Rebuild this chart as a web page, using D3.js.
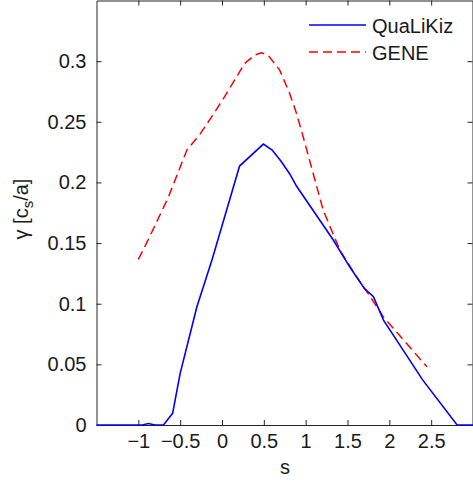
<!DOCTYPE html>
<html>
<head>
<meta charset="utf-8">
<script src="https://cdnjs.cloudflare.com/ajax/libs/d3/7.8.5/d3.min.js"></script>
<style>
  body { margin: 0; background: #fff; }
  text { font-family: "Liberation Sans", Arial, sans-serif; fill: #1a1a1a; }
</style>
</head>
<body>
<svg width="473" height="482"></svg>
<script>
// QuaLiKiz (solid blue)
const qlkS = [-1.5, -0.95, -0.88, -0.8, -0.7, -0.59, -0.5, -0.3, -0.12, 0.21, 0.495, 0.6, 0.71, 0.81, 0.89, 1.33, 1.53, 1.70, 1.81, 1.93, 2.40, 2.81, 3.0];
const qlkG = [0, 0, 0.0012, 0, 0, 0.0096, 0.0426, 0.0975, 0.136, 0.2135, 0.2316, 0.2267, 0.217, 0.207, 0.197, 0.1525, 0.130, 0.1127, 0.1058, 0.0865, 0.037, 0, 0];

// GENE (dashed red)
const geneS = [-1.0, -0.88, -0.64, -0.42, -0.26, -0.11, 0.03, 0.15, 0.27, 0.39, 0.47, 0.55, 0.69, 0.81, 0.89, 0.97, 1.21, 1.41, 1.61, 1.77, 1.93, 2.17, 2.45];
const geneG = [0.1366, 0.153, 0.188, 0.2267, 0.240, 0.2555, 0.2706, 0.2843, 0.298, 0.305, 0.3068, 0.305, 0.2926, 0.273, 0.257, 0.2376, 0.177, 0.144, 0.122, 0.106, 0.089, 0.070, 0.048];

const xTicks = [-1, -0.5, 0, 0.5, 1, 1.5, 2, 2.5];
const yTicks = [0, 0.05, 0.1, 0.15, 0.2, 0.25, 0.3];

const svg = d3.select("svg");

const plotLeft = 96.5, plotRight = 473, plotTop = 0.5, plotBottom = 425;

const x = d3.scaleLinear().domain([-1.5, 3]).range([plotLeft, plotRight]);
const y = d3.scaleLinear().domain([0, 0.35]).range([plotBottom, plotTop]);

const fmt = d => (d < 0 ? "\u2212" : "") + Math.abs(d);
const axisColor = "#262626";

// box with inward ticks on all four sides
svg.append("g")
  .attr("transform", `translate(0, ${plotBottom})`)
  .call(d3.axisBottom(x).tickValues(xTicks).tickSizeInner(-5).tickSizeOuter(0).tickPadding(9).tickFormat(fmt));
svg.append("g")
  .attr("transform", `translate(0, ${plotTop})`)
  .call(d3.axisTop(x).tickValues(xTicks).tickSizeInner(-5).tickSizeOuter(0).tickFormat(""));
svg.append("g")
  .attr("transform", `translate(${plotLeft}, 0)`)
  .call(d3.axisLeft(y).tickValues(yTicks).tickSizeInner(-5).tickSizeOuter(0).tickPadding(10).tickFormat(d => d));
svg.append("g")
  .attr("transform", `translate(${plotRight - 0.5}, 0)`)
  .call(d3.axisRight(y).tickValues(yTicks).tickSizeInner(-5).tickSizeOuter(0).tickFormat(""));

svg.selectAll(".domain, .tick line").attr("stroke", axisColor);
svg.selectAll(".tick text").attr("font-size", 20).attr("fill", "#1a1a1a")
  .attr("font-family", "'Liberation Sans', Arial, sans-serif");

// curves
const line = d3.line().x(d => x(d[0])).y(d => y(d[1]));

svg.append("path")
  .attr("d", line(d3.zip(geneS, geneG)))
  .attr("fill", "none")
  .attr("stroke", "#ff0000")
  .attr("stroke-width", 1.5)
  .attr("stroke-dasharray", "9,5");

svg.append("path")
  .attr("d", line(d3.zip(qlkS, qlkG)))
  .attr("fill", "none")
  .attr("stroke", "#0000ff")
  .attr("stroke-width", 1.6);

// axis labels
svg.append("text")
  .attr("x", 285).attr("y", 474)
  .attr("text-anchor", "middle")
  .attr("font-size", 20)
  .text("s");

const yLab = svg.append("text")
  .attr("transform", "translate(28, 209) rotate(-90)")
  .attr("text-anchor", "middle")
  .attr("font-size", 20);
yLab.append("tspan").text("\u03b3 [c");
yLab.append("tspan").attr("dy", 5).attr("font-size", 15).text("s");
yLab.append("tspan").attr("dy", -5).text("/a]");

// legend
const legend = svg.append("g");
const legendItems = [
  { name: "QuaLiKiz", color: "#0000ff", dash: null, y: 25 },
  { name: "GENE", color: "#ff0000", dash: "9,5", y: 52 }
];
legendItems.forEach(item => {
  legend.append("line")
    .attr("x1", 309).attr("x2", 366)
    .attr("y1", item.y).attr("y2", item.y)
    .attr("stroke", item.color)
    .attr("stroke-width", 1.6)
    .attr("stroke-dasharray", item.dash);
  legend.append("text")
    .attr("x", 372).attr("y", item.y + 8)
    .attr("font-size", 20)
    .text(item.name);
});
</script>
</body>
</html>
